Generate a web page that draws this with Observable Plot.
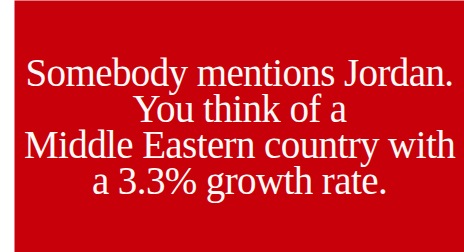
<!DOCTYPE html>
<html>
<head>
<meta charset="utf-8">
<script src="https://cdn.jsdelivr.net/npm/d3@7"></script>
<script src="https://cdn.jsdelivr.net/npm/@observablehq/plot@0.6"></script>
<style>
  html, body { margin: 0; padding: 0; background: #ffffff; }
  #chart svg { display: block; }
</style>
</head>
<body>
<div id="chart"></div>
<script>
// Text lines of the card (top to bottom)
const lines = [
  "Somebody mentions Jordan.",
  "You think of a",
  "Middle Eastern country with",
  "a 3.3% growth rate."
];
const backgroundColor = "#c8000a";
const textColor = "#fffaf7";

const chart = Plot.plot({
  width: 464,
  height: 252,
  marginLeft: 14,
  marginRight: 0,
  marginTop: 0,
  marginBottom: 0,
  style: { letterSpacing: "-0.6px" },
  x: { axis: null, domain: [0, 1] },
  y: { type: "point", domain: lines, range: [85, 193], padding: 0, axis: null },
  marks: [
    Plot.frame({ fill: backgroundColor, stroke: "none" }),
    Plot.text(lines, {
      y: d => d,
      frameAnchor: "middle",
      textAnchor: "middle",
      lineAnchor: "bottom",
      fill: textColor,
      fontSize: 39,
      fontFamily: "Liberation Serif"
    })
  ]
});
document.getElementById("chart").appendChild(chart);
</script>
</body>
</html>
